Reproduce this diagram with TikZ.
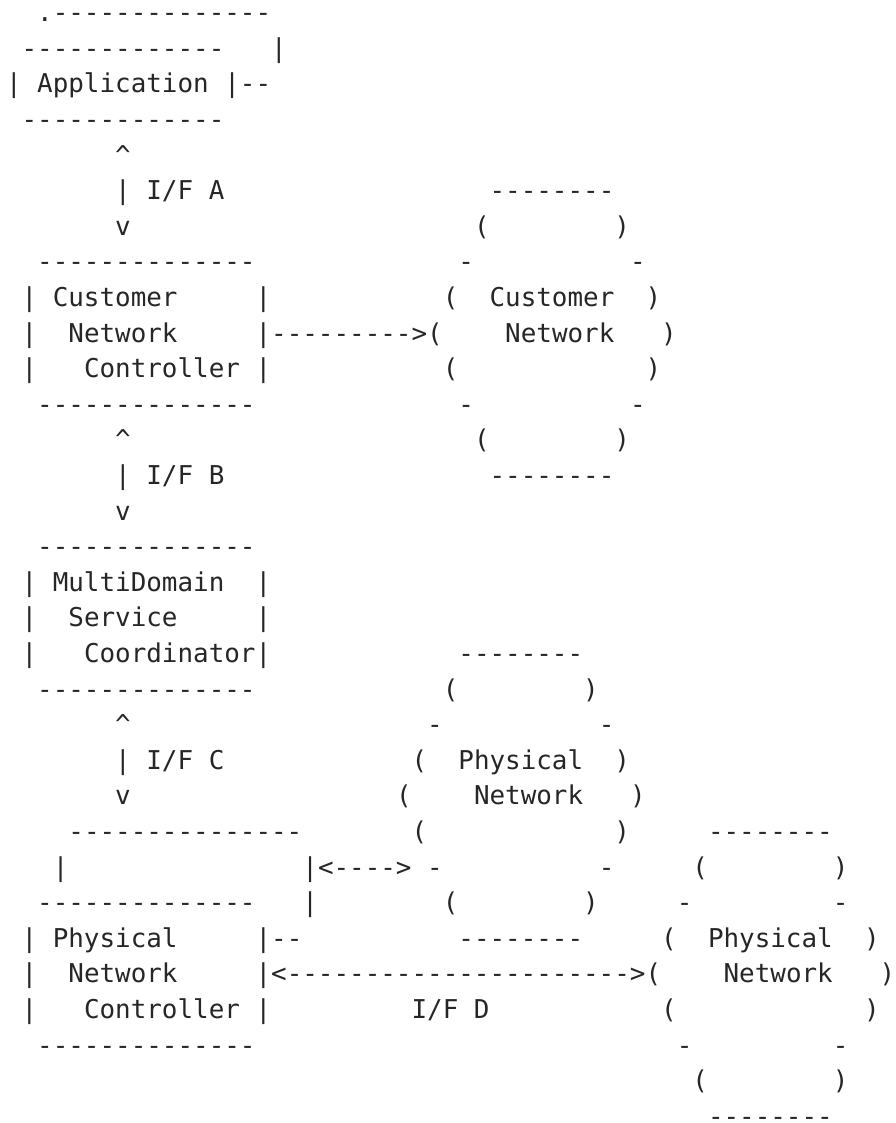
\documentclass[tikz,border=0pt]{standalone}
\usepackage{fontspec}
\setmonofont{DejaVu Sans Mono}
\tikzset{
  ch/.style = {anchor = base west, inner sep = 0pt, outer sep = 0pt,
               font = \ttfamily\fontsize{19.43pt}{26.7pt}\selectfont, text = black!85}
}
\begin{document}
\begin{tikzpicture}[x = 11.7pt, y = -26.7pt]
  \useasboundingbox (-0.385, 0.39) rectangle (57.05, 31.935);
  % application, stacked
  \node[ch] (appback)  at (2, 1)  {.--------------};
  \node[ch] (apptop)   at (1, 2)  {-------------};
  \node[ch] (appside)  at (17, 2) {|};
  \node[ch] (app)      at (0, 3)  {| Application |--};
  \node[ch] (appbot)   at (1, 4)  {-------------};
  % interface A
  \node[ch] (ifaup)    at (7, 5)  {\textasciicircum};
  \node[ch] (ifa)      at (7, 6)  {| I/F A};
  \node[ch] (ifadown)  at (7, 7)  {v};
  % customer network controller
  \node[ch] (cnctop)   at (2, 8)  {--------------};
  \node[ch] (cnca)     at (1, 9)  {| Customer};
  \node[ch] (cncar)    at (16, 9) {|};
  \node[ch] (cncbl)    at (1, 10) {|};
  \node[ch] (cncb)     at (4, 10) {Network};
  \node[ch] (cnclink)  at (16, 10) {|--------->(};
  \node[ch] (cnccl)    at (1, 11) {|};
  \node[ch] (cncc)     at (5, 11) {Controller |};
  \node[ch] (cncbot)   at (2, 12) {--------------};
  % customer network cloud
  \node[ch] (cn1)  at (31, 6)  {--------};
  \node[ch] (cn2l) at (30, 7)  {(};
  \node[ch] (cn2r) at (39, 7)  {)};
  \node[ch] (cn3l) at (29, 8)  {-};
  \node[ch] (cn3r) at (40, 8)  {-};
  \node[ch] (cn4l) at (28, 9)  {(};
  \node[ch] (cn4)  at (31, 9)  {Customer};
  \node[ch] (cn4r) at (41, 9)  {)};
  \node[ch] (cn5)  at (32, 10) {Network};
  \node[ch] (cn5r) at (42, 10) {)};
  \node[ch] (cn6l) at (28, 11) {(};
  \node[ch] (cn6r) at (41, 11) {)};
  \node[ch] (cn7l) at (29, 12) {-};
  \node[ch] (cn7r) at (40, 12) {-};
  \node[ch] (cn8l) at (30, 13) {(};
  \node[ch] (cn8r) at (39, 13) {)};
  \node[ch] (cn9)  at (31, 14) {--------};
  % interface B
  \node[ch] (ifbup)    at (7, 13) {\textasciicircum};
  \node[ch] (ifb)      at (7, 14) {| I/F B};
  \node[ch] (ifbdown)  at (7, 15) {v};
  % multidomain service coordinator
  \node[ch] (mdsctop)  at (2, 16) {--------------};
  \node[ch] (mdsca)    at (1, 17) {| MultiDomain};
  \node[ch] (mdscar)   at (16, 17) {|};
  \node[ch] (mdscbl)   at (1, 18) {|};
  \node[ch] (mdscb)    at (4, 18) {Service};
  \node[ch] (mdscbr)   at (16, 18) {|};
  \node[ch] (mdsccl)   at (1, 19) {|};
  \node[ch] (mdscc)    at (5, 19) {Coordinator|};
  \node[ch] (mdscbot)  at (2, 20) {--------------};
  % interface C
  \node[ch] (ifcup)    at (7, 21) {\textasciicircum};
  \node[ch] (ifc)      at (7, 22) {| I/F C};
  \node[ch] (ifcdown)  at (7, 23) {v};
  % physical network controller, stacked
  \node[ch] (pncback)  at (4, 24) {---------------};
  \node[ch] (pncbackl) at (3, 25) {|};
  \node[ch] (pnclink)  at (19, 25) {|<---->};
  \node[ch] (pnctop)   at (2, 26) {--------------};
  \node[ch] (pncbackr) at (19, 26) {|};
  \node[ch] (pnca)     at (1, 27) {| Physical};
  \node[ch] (pncar)    at (16, 27) {|--};
  \node[ch] (pncbl)    at (1, 28) {|};
  \node[ch] (pncb)     at (4, 28) {Network};
  \node[ch] (ifdlink)  at (16, 28) {|<---------------------->(};
  \node[ch] (pnccl)    at (1, 29) {|};
  \node[ch] (pncc)     at (5, 29) {Controller |};
  \node[ch] (ifd)      at (26, 29) {I/F D};
  \node[ch] (pncbot)   at (2, 30) {--------------};
  % first physical network cloud
  \node[ch] (pa1)  at (29, 19) {--------};
  \node[ch] (pa2l) at (28, 20) {(};
  \node[ch] (pa2r) at (37, 20) {)};
  \node[ch] (pa3l) at (27, 21) {-};
  \node[ch] (pa3r) at (38, 21) {-};
  \node[ch] (pa4l) at (26, 22) {(};
  \node[ch] (pa4)  at (29, 22) {Physical};
  \node[ch] (pa4r) at (39, 22) {)};
  \node[ch] (pa5l) at (25, 23) {(};
  \node[ch] (pa5)  at (30, 23) {Network};
  \node[ch] (pa5r) at (40, 23) {)};
  \node[ch] (pa6l) at (26, 24) {(};
  \node[ch] (pa6r) at (39, 24) {)};
  \node[ch] (pa7l) at (27, 25) {-};
  \node[ch] (pa7r) at (38, 25) {-};
  \node[ch] (pa8l) at (28, 26) {(};
  \node[ch] (pa8r) at (37, 26) {)};
  \node[ch] (pa9)  at (29, 27) {--------};
  % second physical network cloud
  \node[ch] (pb1)  at (45, 24) {--------};
  \node[ch] (pb2l) at (44, 25) {(};
  \node[ch] (pb2r) at (53, 25) {)};
  \node[ch] (pb3l) at (43, 26) {-};
  \node[ch] (pb3r) at (53, 26) {-};
  \node[ch] (pb4l) at (42, 27) {(};
  \node[ch] (pb4)  at (45, 27) {Physical};
  \node[ch] (pb4r) at (55, 27) {)};
  \node[ch] (pb5)  at (46, 28) {Network};
  \node[ch] (pb5r) at (56, 28) {)};
  \node[ch] (pb6l) at (42, 29) {(};
  \node[ch] (pb6r) at (55, 29) {)};
  \node[ch] (pb7l) at (43, 30) {-};
  \node[ch] (pb7r) at (53, 30) {-};
  \node[ch] (pb8l) at (44, 31) {(};
  \node[ch] (pb8r) at (53, 31) {)};
  \node[ch] (pb9)  at (45, 32) {--------};
\end{tikzpicture}
\end{document}
